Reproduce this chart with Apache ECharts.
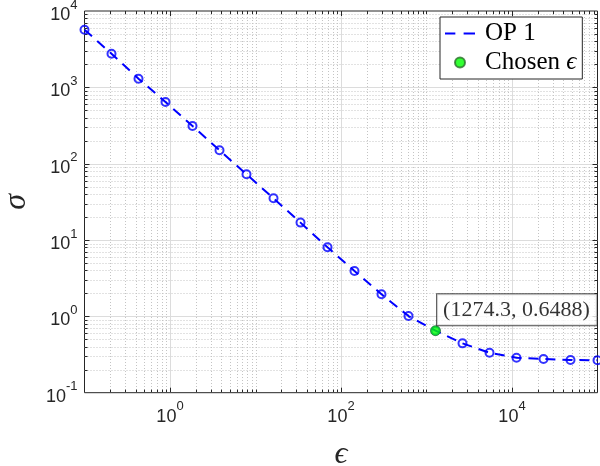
<!DOCTYPE html>
<html><head><meta charset="utf-8">
<script src="https://cdn.jsdelivr.net/npm/echarts@6/dist/echarts.min.js"></script>
<style>html,body{margin:0;padding:0;background:#fff}#c{width:600px;height:466px}</style>
</head><body><div id="c"></div>
<script>
// ---- data ----
const epsValues = [0.1, 0.2069, 0.4281, 0.8859, 1.833, 3.793, 7.848, 16.24, 33.60, 69.52,
  143.8, 297.6, 615.8, 1274.3, 2636.7, 5455.6, 11288, 23357, 48329, 100000];
const sigmaValues = [5690, 2760, 1298, 643, 312, 150, 72.6, 35.2, 16.9, 8.03,
  3.93, 1.95, 1.01, 0.6488, 0.443, 0.333, 0.287, 0.276, 0.268, 0.266];
const chosenEps = [1274.3];
const chosenSigma = [0.6488];
const xMajorExp = [0, 2, 4];            // labelled x decades
const xDecades = [-1, 0, 1, 2, 3, 4];   // decades for minor grid on x
const yDecades = [-1, 0, 1, 2, 3];      // decades for minor grid on y
const yMajorExp = [-1, 0, 1, 2, 3, 4];
const seriesName = 'OP 1';
const chosenName = 'Chosen ϵ';

// ---- grid-line items (kind: 0 x-major, 1 x-minor, 2 y-major, 3 y-minor) ----
const gridItems = [];
xDecades.forEach(e => {
  for (let k = 1; k <= 9; k++) {
    if (k === 1 && e === -1) continue;
    const v = k * Math.pow(10, e);
    const major = (k === 1 && xMajorExp.indexOf(e) >= 0);
    gridItems.push([v, 1, major ? 0 : 1]);
  }
});
yDecades.forEach(e => {
  for (let k = 1; k <= 9; k++) {
    const v = k * Math.pow(10, e);
    const major = (k === 1);
    if (major && e === -1) continue;
    gridItems.push([1, v, major ? 2 : 3]);
  }
});

const chart = echarts.init(document.getElementById('c'));
const axisColor = '#262626';
function expLabel(v, allowed) {
  const e = Math.round(Math.log10(v));
  if (allowed && allowed.indexOf(e) < 0) return '';
  return '{b|10}{s|' + e + '}';
}
const richLabel = {
  b: { fontSize: 18, fontFamily: 'Liberation Sans, Arial, sans-serif', color: axisColor, lineHeight: 20 },
  s: { fontSize: 13, fontFamily: 'Liberation Sans, Arial, sans-serif', color: axisColor, lineHeight: 13, padding: [0, 0, 20, 0] }
};
const nameFont = { fontFamily: 'Liberation Serif, DejaVu Serif, serif', fontStyle: 'italic', fontSize: 32, color: axisColor };

chart.setOption({
  animation: false,
  backgroundColor: '#fff',
  grid: { left: 84.5, right: 2.5, top: 11, bottom: 73.3, show: true, borderColor: axisColor, borderWidth: 1,
    backgroundColor: '#fff', containLabel: false, outerBoundsMode: 'none' },
  xAxis: {
    type: 'log', logBase: 10, min: 0.1, max: 100000, splitNumber: 6,
    axisLine: { show: false }, axisTick: { show: false }, splitLine: { show: false },
    axisLabel: { formatter: v => expLabel(v, xMajorExp), rich: richLabel, margin: 8, padding: [6, 0, 0, 0] },
    name: 'ϵ', nameLocation: 'middle', nameGap: 39, nameTextStyle: nameFont
  },
  yAxis: {
    type: 'log', logBase: 10, min: 0.1, max: 10000, splitNumber: 5,
    axisLine: { show: false }, axisTick: { show: false }, splitLine: { show: false },
    axisLabel: { formatter: v => expLabel(v, yMajorExp), rich: richLabel, margin: 7, padding: [8, 0, 0, 0] },
    name: 'σ', nameLocation: 'middle', nameGap: 52, nameTextStyle: nameFont
  },
  legend: {
    left: 440, top: 17, orient: 'vertical',
    backgroundColor: '#fff', borderColor: axisColor, borderWidth: 1,
    padding: [4, 6, 4, 5], itemGap: 4, itemWidth: 30, itemHeight: 10,
    textStyle: { fontFamily: 'Liberation Serif, DejaVu Serif, serif', fontSize: 25, lineHeight: 25, color: '#000', padding: [0, 0, 0, 5],
      rich: { i: { fontFamily: 'Liberation Serif, DejaVu Serif, serif', fontStyle: 'italic', fontSize: 25, color: '#000' } } },
    formatter: n => n === chosenName ? 'Chosen {i|ϵ}' : n,
    data: [
      { name: seriesName, icon: 'path://M0,0h10v2h-10zM18,0h11v2h-11z' },
      { name: chosenName, icon: 'circle' }
    ]
  },
  series: [
    {
      type: 'custom', silent: true, z: 1,
      data: gridItems, encode: { x: 0, y: 1 },
      renderItem: (params, api) => {
        const kind = api.value(2);
        const cs = params.coordSys;
        const p = api.coord([api.value(0), api.value(1)]);
        const major = (kind === 0 || kind === 2);
        const gridStyle = major
          ? { stroke: '#dcdcdc', lineWidth: 1 }
          : { stroke: '#c4c4c4', lineWidth: 1, lineDash: [1, 2] };
        const tl = major ? 5 : 3;
        const tick = { stroke: axisColor, lineWidth: 1 };
        if (kind < 2) {
          const x = Math.round(p[0]) + 0.5;
          const y0 = cs.y, y1 = cs.y + cs.height;
          return { type: 'group', children: [
            { type: 'line', shape: { x1: x, y1: y0, x2: x, y2: y1 }, style: gridStyle },
            { type: 'line', shape: { x1: x, y1: y1, x2: x, y2: y1 - tl }, style: tick },
            { type: 'line', shape: { x1: x, y1: y0, x2: x, y2: y0 + tl }, style: tick }
          ]};
        } else {
          const y = Math.round(p[1]) + 0.5;
          const x0 = cs.x, x1 = cs.x + cs.width;
          return { type: 'group', children: [
            { type: 'line', shape: { x1: x0, y1: y, x2: x1, y2: y }, style: gridStyle },
            { type: 'line', shape: { x1: x0, y1: y, x2: x0 + tl, y2: y }, style: tick },
            { type: 'line', shape: { x1: x1, y1: y, x2: x1 - tl, y2: y }, style: tick }
          ]};
        }
      }
    },
    {
      name: seriesName, type: 'line', z: 3,
      data: epsValues.map((x, i) => [x, sigmaValues[i]]),
      symbol: 'none',
      lineStyle: { color: '#0000ff', width: 2, type: [10, 7] },
      itemStyle: { color: '#0000ff' }
    },
    {
      name: 'markers', type: 'scatter', z: 4,
      data: epsValues.map((x, i) => [x, sigmaValues[i]]),
      symbol: 'circle', symbolSize: 8,
      itemStyle: { color: 'rgba(255,255,255,0)', borderColor: '#0000ff', borderWidth: 2 }
    },
    {
      name: chosenName, type: 'scatter', z: 5,
      data: chosenEps.map((x, i) => [x, chosenSigma[i]]),
      symbol: 'circle', symbolSize: 10,
      itemStyle: { color: '#00ff00', borderColor: '#2a6e2a', borderWidth: 0.8 },
      label: {
        show: true, position: [7, -31], align: 'left', verticalAlign: 'top',
        formatter: p => '{t|(' + p.value[0] + ', ' + p.value[1] + ')}',
        rich: { t: { fontFamily: 'Liberation Serif, DejaVu Serif, serif', fontSize: 22, lineHeight: 24, color: '#000' } },
        backgroundColor: '#fff', borderColor: axisColor, borderWidth: 1, padding: [4, 7, 3, 6]
      }
    }
  ]
});
</script></body></html>
